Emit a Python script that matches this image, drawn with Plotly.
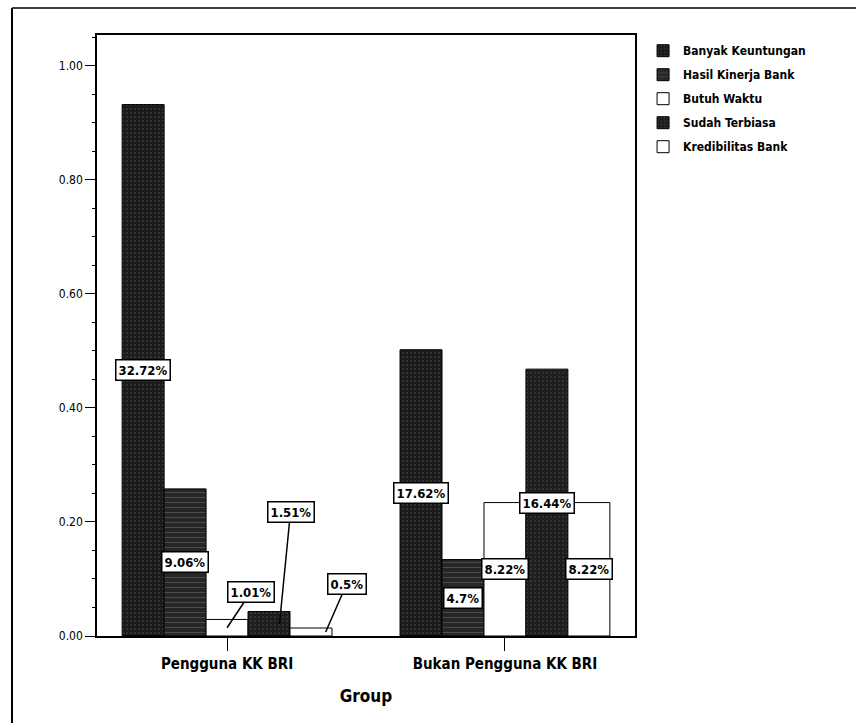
import plotly.graph_objects as go

# ---------------- data ----------------
groups = ["Pengguna KK BRI", "Bukan Pengguna KK BRI"]
series = ["Banyak Keuntungan", "Hasil Kinerja Bank", "Butuh Waktu", "Sudah Terbiasa", "Kredibilitas Bank"]
heights_pengguna = [0.932, 0.258, 0.029, 0.043, 0.014]
heights_bukan = [0.502, 0.134, 0.234, 0.468, 0.234]
pct_pengguna = ["32.72%", "9.06%", "1.01%", "1.51%", "0.5%"]
pct_bukan = ["17.62%", "4.7%", "8.22%", "16.44%", "8.22%"]
y_ticks = [0.0, 0.2, 0.4, 0.6, 0.8, 1.0]
y_ticktext = ["0.00", "0.20", "0.40", "0.60", "0.80", "1.00"]

# ---------------- style ----------------
FONT = "Liberation Sans Narrow, DejaVu Sans Condensed, Arial Narrow, Liberation Sans, sans-serif"
fills = [
    dict(color="#1b1b1b", pattern=dict(shape=".", fgcolor="#8a8a8a", bgcolor="#1b1b1b", size=4, solidity=0.12)),
    dict(color="#2b2b2b", pattern=dict(shape="-", fgcolor="#8a8a8a", bgcolor="#262626", size=5, solidity=0.15)),
    dict(color="#ffffff", pattern=None),
    dict(color="#222222", pattern=dict(shape=".", fgcolor="#7a7a7a", bgcolor="#1e1e1e", size=4, solidity=0.12)),
    dict(color="#ffffff", pattern=None),
]
BARGAP = 0.245
XRANGE = [-0.468, 1.468]
# label placements: None = centred in bar; otherwise (x-shift in bar widths, ax px, ay px)
label_style_pengguna = [None, None, (0.0, 24, -36), (0.25, 11, -112), (0.35, 21, -48)]
label_style_bukan = [None, None, None, None, None]

fig = go.Figure()
for i, name in enumerate(series):
    f = fills[i]
    marker = dict(color=f["color"], line=dict(color="black", width=1))
    if f["pattern"] is not None:
        marker["pattern"] = f["pattern"]
    fig.add_trace(go.Bar(
        name=name, x=groups, y=[heights_pengguna[i], heights_bukan[i]],
        marker=marker, legendgroup=name, hoverinfo="skip",
    ))

n = len(series)
w = (1 - BARGAP) / n
annotations = []
for gi, (hs, ps, styles) in enumerate([(heights_pengguna, pct_pengguna, label_style_pengguna),
                                       (heights_bukan, pct_bukan, label_style_bukan)]):
    for i in range(n):
        xc = gi + (i - (n - 1) / 2) * w
        st = styles[i]
        base = dict(text="<b>" + ps[i] + "</b>", xref="x", yref="y",
                    font=dict(family=FONT, size=13, color="black"),
                    bgcolor="white", bordercolor="black", borderwidth=1.5, borderpad=2)
        if st is None:
            base.update(x=xc, y=hs[i] / 2, showarrow=False)
        else:
            dx, ax, ay = st
            base.update(x=xc + dx * w, y=hs[i] / 2, showarrow=True, arrowhead=0,
                        arrowwidth=1.5, arrowcolor="black", ax=ax, ay=ay, standoff=0)
        annotations.append(base)

fig.update_layout(
    width=856, height=723,
    margin=dict(l=97, r=221, t=35, b=87),
    paper_bgcolor="white", plot_bgcolor="white",
    barmode="group", bargap=BARGAP, bargroupgap=0,
    font=dict(family=FONT, color="black"),
    showlegend=True,
    legend=dict(x=1.015, y=0.998, xanchor="left", yanchor="top",
                font=dict(family=FONT, size=12, color="black", weight="bold"),
                tracegroupgap=5, bgcolor="rgba(0,0,0,0)", itemwidth=30),
    annotations=annotations,
    shapes=[
        dict(type="line", xref="paper", yref="paper", x0=-0.158, x1=-0.158, y0=1.045, y1=-0.2,
             line=dict(color="black", width=2)),
        dict(type="line", xref="paper", yref="paper", x0=-0.158, x1=1.45, y0=1.045, y1=1.045,
             line=dict(color="black", width=1.5)),
    ],
)
fig.update_xaxes(
    range=XRANGE, showline=True, linecolor="black", linewidth=1.5, mirror=True,
    ticks="outside", ticklen=13, tickcolor="black", showgrid=False,
    tickfont=dict(family=FONT, size=15, color="black", weight="bold"),
    title=dict(text="<b>Group</b>", font=dict(family=FONT, size=17, color="black"), standoff=18),
)
fig.update_yaxes(
    range=[0, 1.054], tickvals=y_ticks, ticktext=y_ticktext,
    showline=True, linecolor="black", linewidth=1.5, mirror=True,
    ticks="outside", ticklen=10, tickcolor="black", showgrid=False, zeroline=False,
    tickfont=dict(family=FONT, size=12, color="black"),
    minor=dict(ticks="outside", ticklen=3, dtick=0.05, tickcolor="black", showgrid=False),
)

fig.write_html("out.html")
